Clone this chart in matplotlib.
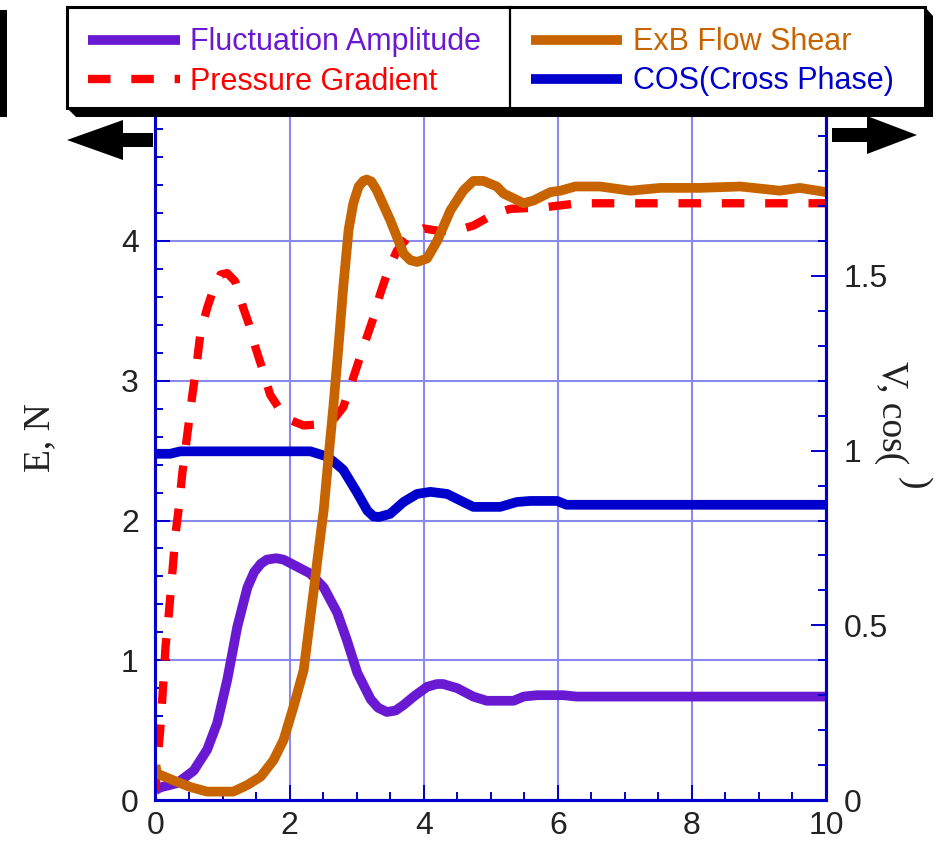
import matplotlib
matplotlib.use("Agg")
import matplotlib.pyplot as plt
from matplotlib.patches import Rectangle, Polygon, FancyArrow
from matplotlib.ticker import MultipleLocator

# values
fluct_x = [0, 0.07, 0.32, 0.57, 0.77, 0.92, 1.07, 1.22, 1.37, 1.47, 1.57, 1.66, 1.80, 1.91, 2.11,
           2.31, 2.51, 2.71, 2.85, 3.01, 3.21, 3.32, 3.45, 3.58, 3.70, 3.85, 4.05, 4.20, 4.29, 4.50,
           4.74, 4.94, 5.34, 5.49, 5.69, 6.08, 6.28, 10]
fluct_y = [0.07, 0.09, 0.12, 0.21, 0.36, 0.55, 0.86, 1.24, 1.52, 1.63, 1.69, 1.72, 1.73, 1.72, 1.67,
           1.62, 1.52, 1.34, 1.15, 0.91, 0.72, 0.66, 0.63, 0.64, 0.68, 0.74, 0.81, 0.83, 0.83, 0.80,
           0.74, 0.71, 0.71, 0.74, 0.75, 0.75, 0.74, 0.74]

press_x = [0, 0.03, 0.07, 0.12, 0.15, 0.2, 0.25, 0.3, 0.35, 0.4, 0.47, 0.55, 0.62, 0.67, 0.77, 0.84,
           0.97, 1.07, 1.19, 1.31, 1.39, 1.49, 1.59, 1.71, 1.86, 2.0, 2.21, 2.51, 2.65, 2.80, 2.9,
           3.10, 3.25, 3.35, 3.47, 3.60, 3.80, 4.0, 4.25, 4.59, 4.74, 5.04, 5.29, 5.78, 6.3, 10]
press_y = [0.07, 0.29, 0.5, 0.86, 1.1, 1.34, 1.62, 1.91, 2.1, 2.34, 2.6, 2.9, 3.14, 3.34, 3.52, 3.62,
           3.76, 3.77, 3.71, 3.52, 3.41, 3.24, 3.09, 2.9, 2.79, 2.72, 2.68, 2.69, 2.72, 2.81, 2.95,
           3.24, 3.45, 3.62, 3.79, 3.93, 4.05, 4.09, 4.07, 4.09, 4.11, 4.19, 4.23, 4.24, 4.27, 4.27]

shear_x = [0, 0.02, 0.27, 0.52, 0.77, 1.16, 1.37, 1.57, 1.76, 1.91, 2.06, 2.21, 2.31, 2.36, 2.41,
           2.51, 2.58, 2.65, 2.73, 2.80, 2.88, 2.95, 3.03, 3.10, 3.15, 3.22, 3.30, 3.50, 3.70, 3.80,
           3.90, 4.05, 4.20, 4.40, 4.59, 4.74, 4.89, 5.09, 5.19, 5.49, 5.64, 5.89, 6.04, 6.26, 6.63,
           7.08, 7.53, 8.12, 8.72, 9.31, 9.61, 10]
shear_y = [0.100, 0.076, 0.056, 0.037, 0.024, 0.024, 0.043, 0.067, 0.114, 0.172, 0.268, 0.372,
           0.524, 0.600, 0.680, 0.832, 0.980, 1.120, 1.300, 1.468, 1.632, 1.708, 1.756, 1.772,
           1.776, 1.770, 1.745, 1.660, 1.564, 1.545, 1.540, 1.550, 1.600, 1.688, 1.744, 1.772,
           1.772, 1.756, 1.736, 1.708, 1.716, 1.740, 1.744, 1.756, 1.756, 1.744, 1.752, 1.752,
           1.756, 1.744, 1.752, 1.740]

cos_x = [0, 0.22, 0.37, 2.31, 2.56, 2.71, 2.80, 3.0, 3.16, 3.25, 3.33, 3.50, 3.70, 3.90, 4.10, 4.35,
         4.59, 4.74, 5.14, 5.39, 5.59, 5.99, 6.13, 10]
cos_y = [0.991, 0.991, 0.998, 0.998, 0.983, 0.96, 0.945, 0.882, 0.828, 0.812, 0.81, 0.819, 0.853,
         0.876, 0.882, 0.876, 0.853, 0.839, 0.839, 0.853, 0.856, 0.856, 0.845, 0.845]

left_ticks = [0, 1, 2, 3, 4]
right_ticks = [0, 0.5, 1, 1.5]
x_ticks = [0, 2, 4, 6, 8, 10]

PURPLE = '#6a19d2'
RED = '#ff0000'
BROWN = '#c86400'
BLUE = '#0000cc'
GRID = '#8a8aee'
TXT = '#222222'

LW = 7.0
W, H = 937, 841
fig = plt.figure(figsize=(W / 100, H / 100), dpi=100)
ax = fig.add_axes([155.5 / W, 1 - 800 / H, (826 - 155.5) / W, (800 - 101.25) / H])
ax2 = ax.twinx()

ax.set_xlim(0, 10)
ax.set_ylim(0, 5)
ax2.set_ylim(0, 2)

ax.grid(True, which='major', color=GRID, lw=1.5)
ax.set_axisbelow(True)

solid = dict(lw=LW, solid_capstyle='butt', solid_joinstyle='round')
ax.plot(fluct_x, fluct_y, color=PURPLE, **solid)
ax.plot(press_x, press_y, color=RED, lw=6.0, linestyle=(0, (2.7, 2.5)), dash_joinstyle='round')
ax2.plot(cos_x, cos_y, color=BLUE, **solid)
ax2.plot(shear_x, shear_y, color=BROWN, **solid)

ax.set_xticks(x_ticks)
ax.set_yticks(left_ticks)
ax2.set_yticks(right_ticks)
ax2.set_yticklabels(['0', '0.5', '1', '1.5'])
ax.xaxis.set_minor_locator(MultipleLocator(0.5))
ax.yaxis.set_minor_locator(MultipleLocator(0.2))
ax2.yaxis.set_minor_locator(MultipleLocator(0.1))

for a in (ax, ax2):
    for s in a.spines.values():
        s.set_color(BLUE)
        s.set_linewidth(2.2)
    a.spines['top'].set_visible(False)
    a.tick_params(which='major', direction='in', length=10.8, width=1.4, color=BLUE,
                  labelsize=23, labelcolor=TXT, labelfontfamily='Liberation Sans')
    a.tick_params(which='minor', direction='in', length=5.8, width=1.4, color=BLUE)
ax.tick_params(axis='y', pad=12)
ax.tick_params(axis='x', pad=8)
ax2.tick_params(axis='y', pad=13)

fig.text(40 / W, 1 - 438 / H, 'E, N', rotation=90, ha='center', va='center',
         family='Liberation Serif', fontsize=27, color=TXT)
fig.text(891 / W, 1 - 413 / H, 'V, cos(', rotation=270, ha='center', va='center',
         family='Liberation Serif', fontsize=27, color=TXT)
fig.text(914 / W, 1 - 483 / H, ')', rotation=270, ha='center', va='center',
         family='Liberation Serif', fontsize=27, color=TXT)

# overlay in pixel units for the legend box, arrows and cut-off bits
deco = fig.add_axes([0, 0, 1, 1], zorder=10)
deco.set_xlim(0, W)
deco.set_ylim(H, 0)
deco.axis('off')

deco.add_patch(Rectangle((0, 10), 7, 107, color='black', lw=0))
deco.add_patch(Polygon([(67, 108), (76, 117), (933, 117), (933, 16), (925, 7)],
                       closed=True, color='black', lw=0))
deco.add_patch(Rectangle((67, 7), 858, 101, facecolor='white', edgecolor='black', lw=2.2))
deco.plot([510, 510], [7, 108], color='black', lw=1.6)

deco.plot([88, 180], [40, 40], color=PURPLE, lw=LW, solid_capstyle='butt')
deco.plot([88, 180], [79, 79], color=RED, lw=6.0, linestyle=(0, (2.7, 2.5)))
deco.plot([531, 622], [40, 40], color=BROWN, lw=LW, solid_capstyle='butt')
deco.plot([531, 622], [79, 79], color=BLUE, lw=LW, solid_capstyle='butt')

leg_font = dict(fontsize=22, family='Liberation Sans', va='baseline', ha='left')
deco.text(190, 50, 'Fluctuation Amplitude', color=PURPLE, **leg_font)
deco.text(190, 90, 'Pressure Gradient', color=RED, **leg_font)
deco.text(633, 50, 'ExB Flow Shear', color=BROWN, **leg_font)
deco.text(633, 89, 'COS(Cross Phase)', color=BLUE, **leg_font)

deco.add_patch(FancyArrow(153, 140, -86, 0, width=14, head_width=40, head_length=56,
                          length_includes_head=True, color='black', lw=0))
deco.add_patch(FancyArrow(832, 135, 85, 0, width=14, head_width=38, head_length=50,
                          length_includes_head=True, color='black', lw=0))

fig.savefig('out.png', dpi=100)
